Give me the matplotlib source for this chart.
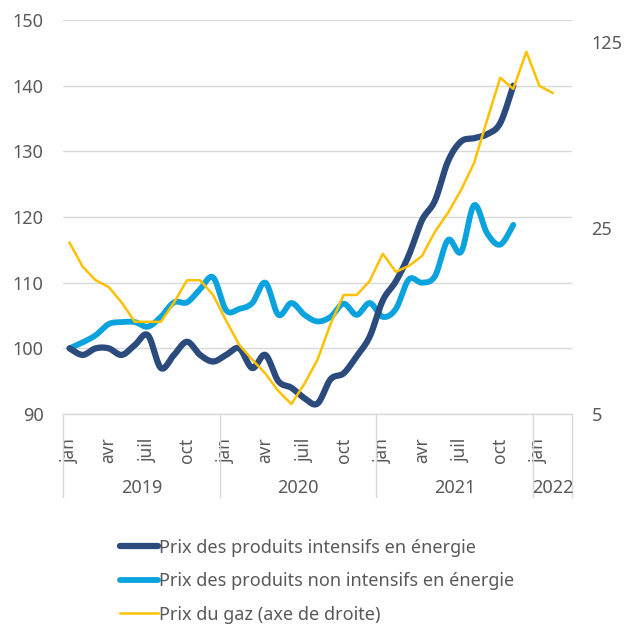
import numpy as np
import matplotlib
matplotlib.use('Agg')
import matplotlib.pyplot as plt
from matplotlib.lines import Line2D

plt.rcParams['font.family'] = ['Noto Sans', 'DejaVu Sans']

# mois de janv. 2019 a mars 2022 (index 0..38)
etiquettes_mois = ['jan', '', '', 'avr', '', '', 'juil', '', '', 'oct', '', ''] * 3 + ['jan', '', '']
annees = ['2019', '2020', '2021', '2022']
nb_mois = [12, 12, 12, 3]

# indices (base 100), janv. 2019 -> nov. 2021
intensifs = [100, 99, 100, 100, 99, 100.5, 102, 97, 99, 101, 99, 98,
             99, 100, 97, 99, 95, 94, 92.4, 91.6, 95.3, 96.2, 98.8, 101.8,
             107.3, 110.2, 114.2, 119.5, 122.5, 128.5, 131.5, 132, 132.6, 134.3, 140]
non_intensifs = [100, 100.9, 102, 103.7, 104, 104, 103.3, 104.8, 107, 107, 109, 110.8,
                 105.8, 106, 106.9, 110, 105.1, 106.9, 105.1, 104.1, 104.8, 106.8, 105.1, 106.9,
                 104.8, 106, 110.5, 110, 111, 116.5, 114.7, 121.8, 117.5, 115.8, 118.8]
# prix du gaz (axe de droite), janv. 2019 -> fevr. 2022
gaz = [22.0, 17.9, 15.9, 15.0, 13.1, 11.1, 11.1, 11.1, 13.1, 15.9, 15.9, 14.0,
       11.2, 9.1, 8.0, 7.1, 6.1, 5.45, 6.5, 8.0, 10.9, 14.0, 14.0, 15.8,
       20.0, 17.1, 18.0, 19.6, 24.2, 28.5, 34.7, 43.9, 63.7, 91.6, 83.2, 114.7, 85.4, 80.4]

bleu_fonce = '#2a4b7c'
bleu_clair = '#0ba3dd'
jaune = '#ffc000'
gris = '#595959'


def lisse(vals, n=16):
    # courbe lissee facon Excel (bezier passant par les points)
    y = np.asarray(vals, float)
    x = np.arange(len(y), dtype=float)
    xs, ys = [], []
    t = np.linspace(0, 1, n, endpoint=False)
    for k in range(len(y) - 1):
        a, b = max(k - 1, 0), min(k + 2, len(y) - 1)
        for src, dst in ((x, xs), (y, ys)):
            p0, p1, p2, p3 = src[a], src[k], src[k + 1], src[b]
            c1 = p1 + (p2 - p0) / 6
            c2 = p2 - (p3 - p1) / 6
            dst.extend((1 - t) ** 3 * p1 + 3 * (1 - t) ** 2 * t * c1 + 3 * (1 - t) * t ** 2 * c2 + t ** 3 * p2)
    xs.append(x[-1])
    ys.append(y[-1])
    return xs, ys


fig = plt.figure(figsize=(6.24, 6.24), dpi=100)
ax = fig.add_axes([0.101, 0.3365, 0.8157, 0.6315])

x1, y1 = lisse(non_intensifs)
ax.plot(x1, y1, color=bleu_clair, lw=4.2, solid_capstyle='round', zorder=3)
x2, y2 = lisse(intensifs)
ax.plot(x2, y2, color=bleu_fonce, lw=4.5, solid_capstyle='round', zorder=4)

ax.set_xlim(-0.5, 38.5)
ax.set_ylim(90, 150)
ax.set_yticks(range(90, 151, 10))
ax.grid(axis='y', color='#d9d9d9', lw=1)
ax.set_axisbelow(True)
for s in ax.spines.values():
    s.set_visible(False)
ax.tick_params(axis='y', length=0, pad=14, labelsize=13, labelcolor=gris)

ax.set_xticks(range(len(etiquettes_mois)))
ax.set_xticklabels(etiquettes_mois, rotation=90)
ax.tick_params(axis='x', length=0, pad=17, labelsize=12.5, labelcolor=gris)

# axe des categories a deux niveaux
trans = ax.get_xaxis_transform()
ax.plot([-0.5, 38.5], [0, 0], transform=trans, color='#d9d9d9', lw=1, clip_on=False)
debut = -0.5
for an, n in zip(annees, nb_mois):
    ax.plot([debut, debut], [0, -0.21], transform=trans, color='#d9d9d9', lw=1, clip_on=False)
    ax.text(debut + n / 2, -0.188, an, transform=trans, ha='center', va='center',
            fontsize=13, color=gris)
    debut += n
ax.plot([debut, debut], [0, -0.21], transform=trans, color='#d9d9d9', lw=1, clip_on=False)

ax2 = ax.twinx()
ax2.plot(range(len(gaz)), gaz, color=jaune, lw=1.8, zorder=5)
ax2.set_yscale('log')
ax2.set_ylim(5, 151)
ax2.set_yticks([5, 25, 125])
ax2.set_yticklabels(['5', '25', '125'])
ax2.minorticks_off()
for s in ax2.spines.values():
    s.set_visible(False)
ax2.tick_params(axis='y', length=0, pad=14, labelsize=13, labelcolor=gris)

poignees = [Line2D([], [], color=bleu_fonce, lw=4.5, solid_capstyle='round'),
            Line2D([], [], color=bleu_clair, lw=4.2, solid_capstyle='round'),
            Line2D([], [], color=jaune, lw=1.8)]
noms = ['Prix des produits intensifs en énergie',
        'Prix des produits non intensifs en énergie',
        'Prix du gaz (axe de droite)']
leg = fig.legend(poignees, noms, loc='upper left', bbox_to_anchor=(0.193, 0.137),
                 frameon=False, fontsize=13, handlelength=2.1, handletextpad=0.05,
                 labelspacing=0.86, borderpad=0, borderaxespad=0)
for t in leg.get_texts():
    t.set_color(gris)

fig.savefig('out.png', dpi=100)
plt.close()
